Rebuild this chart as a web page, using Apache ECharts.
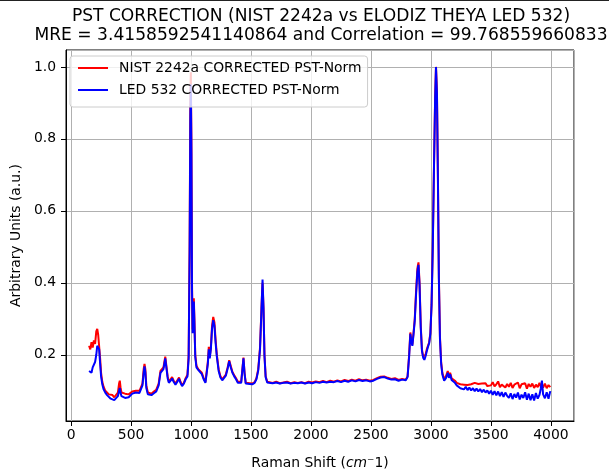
<!DOCTYPE html>
<html>
<head>
<meta charset="utf-8">
<script src="https://cdn.jsdelivr.net/npm/echarts@6/dist/echarts.min.js"></script>
<style>
  html, body { margin: 0; padding: 0; background: #fff; }
  #main { width: 609px; height: 475px; }
</style>
</head>
<body>
<div id="main"></div>
<script>
// Raman shift positions (cm^-1)
var shift = [
  150, 160, 170, 180, 190, 200, 210, 218, 226, 234, 242, 250, 260, 270, 285, 300, 315, 330, 345, 360,
  375, 390, 400, 406, 412, 420, 435, 450, 465, 480, 495, 510, 525, 540, 555, 570, 585, 595, 605, 612,
  619, 627, 640, 655, 670, 690, 710, 730, 745, 758, 770, 785, 795, 805, 815, 830, 842, 855, 870, 885,
  900, 912, 925, 940, 955, 970, 980, 988, 994, 998, 1003, 1008, 1013, 1018, 1023, 1028, 1035, 1045, 1060, 1075,
  1090, 1105, 1120, 1132, 1140, 1148, 1156, 1165, 1175, 1185, 1195, 1205, 1215, 1230, 1245, 1260, 1275, 1290, 1305, 1318,
  1330, 1345, 1360, 1375, 1390, 1405, 1418, 1428, 1437, 1446, 1456, 1470, 1490, 1510, 1530, 1545, 1560, 1575, 1587, 1596,
  1604, 1612, 1622, 1635, 1650, 1680, 1710, 1740, 1770, 1800, 1830, 1860, 1890, 1920, 1950, 1980, 2010, 2040, 2070, 2100,
  2130, 2160, 2190, 2220, 2250, 2280, 2310, 2340, 2370, 2400, 2430, 2460, 2490, 2520, 2550, 2580, 2610, 2640, 2670, 2700,
  2730, 2760, 2790, 2805, 2818, 2828, 2837, 2845, 2855, 2865, 2875, 2887, 2896, 2905, 2915, 2925, 2935, 2945, 2955, 2965,
  2975, 2985, 2995, 3005, 3015, 3025, 3035, 3042, 3050, 3058, 3066, 3075, 3085, 3095, 3110, 3125, 3140, 3150, 3160, 3172,
  3185, 3200, 3215, 3230, 3245, 3260, 3275, 3290, 3305, 3320, 3335, 3350, 3365, 3380, 3395, 3410, 3425, 3440, 3455, 3470,
  3485, 3500, 3515, 3530, 3545, 3560, 3575, 3590, 3605, 3620, 3635, 3650, 3665, 3680, 3695, 3710, 3725, 3740, 3755, 3770,
  3785, 3800, 3815, 3830, 3845, 3860, 3875, 3890, 3905, 3915, 3925, 3935, 3950, 3965, 3980, 3995
];

// NIST 2242a corrected, normalised
var nist = [
  0.225, 0.215, 0.235, 0.220, 0.240, 0.230, 0.265, 0.272, 0.255, 0.250, 0.190, 0.150, 0.125, 0.112, 0.100, 0.095, 0.090, 0.085, 0.088, 0.082,
  0.086, 0.095, 0.120, 0.128, 0.110, 0.095, 0.090, 0.092, 0.088, 0.090, 0.092, 0.098, 0.102, 0.100, 0.098, 0.100, 0.102, 0.120, 0.160, 0.175,
  0.160, 0.115, 0.095, 0.090, 0.092, 0.098, 0.103, 0.120, 0.155, 0.155, 0.165, 0.195, 0.190, 0.140, 0.125, 0.130, 0.138, 0.128, 0.120, 0.125,
  0.137, 0.125, 0.116, 0.122, 0.135, 0.145, 0.200, 0.500, 0.900, 0.985, 0.800, 0.400, 0.270, 0.330, 0.357, 0.300, 0.200, 0.170, 0.160, 0.162,
  0.150, 0.135, 0.125, 0.125, 0.180, 0.222, 0.195, 0.220, 0.280, 0.305, 0.290, 0.240, 0.200, 0.160, 0.140, 0.132, 0.130, 0.145, 0.165, 0.185,
  0.170, 0.152, 0.143, 0.135, 0.125, 0.122, 0.125, 0.160, 0.192, 0.150, 0.122, 0.120, 0.121, 0.120, 0.124, 0.135, 0.160, 0.220, 0.330, 0.400,
  0.330, 0.200, 0.140, 0.125, 0.124, 0.122, 0.125, 0.121, 0.123, 0.125, 0.121, 0.124, 0.122, 0.124, 0.121, 0.125, 0.123, 0.126, 0.124, 0.127,
  0.124, 0.128, 0.125, 0.129, 0.126, 0.130, 0.127, 0.131, 0.128, 0.132, 0.129, 0.131, 0.128, 0.130, 0.135, 0.139, 0.140, 0.136, 0.133, 0.135,
  0.130, 0.133, 0.131, 0.140, 0.200, 0.262, 0.240, 0.228, 0.262, 0.300, 0.370, 0.440, 0.457, 0.400, 0.280, 0.215, 0.195, 0.190, 0.200, 0.215,
  0.225, 0.235, 0.260, 0.340, 0.500, 0.720, 0.920, 1.000, 0.930, 0.700, 0.420, 0.250, 0.180, 0.150, 0.132, 0.140, 0.155, 0.140, 0.150, 0.135,
  0.130, 0.128, 0.122, 0.120, 0.118, 0.121, 0.117, 0.120, 0.116, 0.121, 0.118, 0.115, 0.122, 0.117, 0.119, 0.114, 0.120, 0.116, 0.121, 0.113,
  0.118, 0.115, 0.124, 0.112, 0.118, 0.126, 0.110, 0.117, 0.121, 0.109, 0.119, 0.111, 0.122, 0.108, 0.117, 0.112, 0.123, 0.107, 0.118, 0.113,
  0.121, 0.106, 0.119, 0.111, 0.120, 0.108, 0.117, 0.110, 0.122, 0.112, 0.118, 0.109, 0.120, 0.107, 0.116, 0.110
];

// LED 532 corrected, normalised
var led = [
  0.155, 0.160, 0.150, 0.165, 0.170, 0.180, 0.200, 0.225, 0.228, 0.215, 0.175, 0.140, 0.118, 0.105, 0.095, 0.088, 0.084, 0.078, 0.080, 0.074,
  0.076, 0.085, 0.100, 0.108, 0.095, 0.085, 0.082, 0.080, 0.083, 0.082, 0.086, 0.092, 0.096, 0.095, 0.092, 0.094, 0.097, 0.115, 0.150, 0.168,
  0.152, 0.108, 0.090, 0.086, 0.088, 0.093, 0.098, 0.115, 0.150, 0.150, 0.160, 0.190, 0.185, 0.135, 0.122, 0.128, 0.134, 0.125, 0.117, 0.122,
  0.133, 0.122, 0.113, 0.120, 0.132, 0.140, 0.190, 0.480, 0.860, 0.952, 0.760, 0.380, 0.260, 0.320, 0.348, 0.290, 0.195, 0.165, 0.158, 0.158,
  0.146, 0.132, 0.122, 0.120, 0.175, 0.215, 0.190, 0.215, 0.272, 0.296, 0.280, 0.232, 0.195, 0.155, 0.137, 0.129, 0.128, 0.142, 0.162, 0.182,
  0.166, 0.150, 0.140, 0.132, 0.122, 0.119, 0.122, 0.158, 0.190, 0.148, 0.120, 0.118, 0.119, 0.118, 0.122, 0.132, 0.156, 0.215, 0.325, 0.409,
  0.330, 0.198, 0.138, 0.123, 0.122, 0.121, 0.123, 0.120, 0.122, 0.123, 0.120, 0.122, 0.121, 0.123, 0.120, 0.123, 0.121, 0.124, 0.122, 0.125,
  0.123, 0.125, 0.124, 0.127, 0.124, 0.128, 0.125, 0.129, 0.126, 0.130, 0.127, 0.129, 0.126, 0.128, 0.133, 0.137, 0.138, 0.134, 0.131, 0.132,
  0.128, 0.131, 0.129, 0.138, 0.195, 0.258, 0.236, 0.225, 0.258, 0.295, 0.362, 0.432, 0.450, 0.392, 0.275, 0.210, 0.192, 0.186, 0.196, 0.210,
  0.222, 0.232, 0.258, 0.338, 0.495, 0.715, 0.915, 1.000, 0.925, 0.690, 0.410, 0.245, 0.175, 0.145, 0.128, 0.135, 0.150, 0.136, 0.146, 0.130,
  0.125, 0.122, 0.115, 0.110, 0.107, 0.112, 0.104, 0.111, 0.102, 0.109, 0.101, 0.107, 0.099, 0.106, 0.098, 0.105, 0.096, 0.103, 0.095, 0.101,
  0.092, 0.100, 0.089, 0.099, 0.087, 0.098, 0.085, 0.096, 0.083, 0.095, 0.086, 0.080, 0.093, 0.077, 0.091, 0.081, 0.095, 0.076, 0.089, 0.080,
  0.096, 0.075, 0.092, 0.074, 0.090, 0.073, 0.094, 0.078, 0.089, 0.105, 0.128, 0.090, 0.079, 0.096, 0.078, 0.099
];

var xTicks = [0, 500, 1000, 1500, 2000, 2500, 3000, 3500, 4000];
var yTicks = [0.2, 0.4, 0.6, 0.8, 1.0];

function pairs(xs, ys) {
  var out = [];
  for (var i = 0; i < xs.length; i++) out.push([xs[i], ys[i]]);
  return out;
}

var font = 'DejaVu Sans';
var fs = 13.9;
// plain line handle for the legend (zero-width segments only fix the box)
var lineIcon = 'path://M0,0L0.01,0M0,6L30,6L30,8L0,8ZM0,14L0.01,14';

var chart = echarts.init(document.getElementById('main'), null, { renderer: 'canvas' });

var option = {
  animation: false,
  backgroundColor: '#fff',
  textStyle: { fontFamily: font },
  title: {
    text: 'PST CORRECTION (NIST 2242a vs ELODIZ THEYA LED 532)\nMRE = 3.4158592541140864 and Correlation = 99.768559660833',
    left: 321,
    top: 7,
    padding: 0,
    textAlign: 'center',
    textStyle: { fontFamily: font, fontSize: 17.1, fontWeight: 'normal', color: '#000', lineHeight: 19 }
  },
  graphic: [{
    type: 'rect', left: 0, top: 0, z: 100,
    shape: { width: 609, height: 1 },
    style: { fill: '#222' }
  }],
  legend: {
    orient: 'vertical',
    left: 70,
    top: 56,
    padding: [5, 6, 10, 8],
    itemWidth: 30,
    itemHeight: 14,
    itemGap: 8,
    icon: lineIcon,
    backgroundColor: 'rgba(255,255,255,0.8)',
    borderColor: '#cccccc',
    borderWidth: 1,
    borderRadius: 3,
    textStyle: { fontFamily: font, fontSize: fs, color: '#000', padding: [0, 0, 0, 6] },
    data: ['NIST 2242a CORRECTED PST-Norm', 'LED 532 CORRECTED PST-Norm']
  },
  grid: {
    left: 66, right: 35, top: 50, bottom: 46,
    show: true, borderColor: '#000', borderWidth: 1, backgroundColor: 'transparent'
  },
  xAxis: {
    type: 'value',
    min: -42.5,
    max: 4192.5,
    splitNumber: 8,
    name: 'Raman Shift ({i|cm}⁻1)',
    nameLocation: 'middle',
    nameGap: 35,
    nameTextStyle: {
      fontFamily: font, fontSize: fs, color: '#000',
      rich: { i: { fontFamily: font, fontSize: fs, fontStyle: 'italic', color: '#000' } }
    },
    axisLine: { onZero: false, lineStyle: { color: '#000', width: 1 } },
    axisTick: { length: 5, lineStyle: { color: '#000' } },
    axisLabel: {
      margin: 7, fontSize: fs, color: '#000', fontFamily: font,
      showMinLabel: false, showMaxLabel: false,
      formatter: function (v) { return xTicks.indexOf(v) >= 0 ? String(v) : ''; }
    },
    splitLine: { show: true, lineStyle: { color: '#b0b0b0', width: 1 } }
  },
  yAxis: {
    type: 'value',
    min: 0.016,
    max: 1.047,
    splitNumber: 5,
    name: 'Arbitrary Units (a.u.)',
    nameLocation: 'middle',
    nameGap: 35,
    nameTextStyle: { fontFamily: font, fontSize: fs, color: '#000' },
    axisLine: { show: true, onZero: false, lineStyle: { color: '#000', width: 1 } },
    axisTick: { show: true, length: 5, lineStyle: { color: '#000' } },
    axisLabel: {
      margin: 10, fontSize: fs, color: '#000', fontFamily: font,
      showMinLabel: false, showMaxLabel: false,
      formatter: function (v) {
        for (var i = 0; i < yTicks.length; i++) {
          if (Math.abs(v - yTicks[i]) < 1e-6) return yTicks[i].toFixed(1);
        }
        return '';
      }
    },
    splitLine: { show: true, lineStyle: { color: '#b0b0b0', width: 1 } }
  },
  series: [
    {
      name: 'NIST 2242a CORRECTED PST-Norm',
      type: 'line',
      symbol: 'none',
      color: '#ff0000',
      lineStyle: { color: '#ff0000', width: 2 },
      data: pairs(shift, nist)
    },
    {
      name: 'LED 532 CORRECTED PST-Norm',
      type: 'line',
      symbol: 'none',
      color: '#0000ff',
      lineStyle: { color: '#0000ff', width: 2 },
      data: pairs(shift, led)
    }
  ]
};

chart.setOption(option);
</script>
</body>
</html>
